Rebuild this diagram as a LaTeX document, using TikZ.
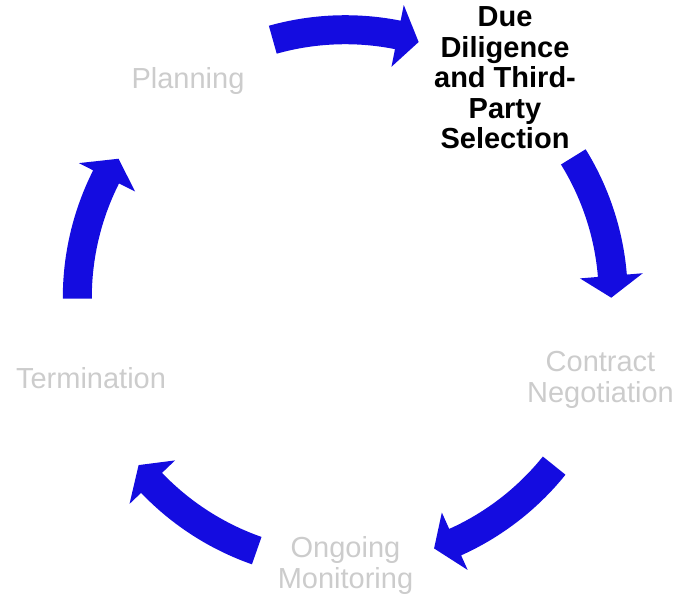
\documentclass[tikz,border=0pt]{standalone}
\usepackage{fontspec}
\setmainfont{Liberation Sans}
\usepackage{tikz}
\usetikzlibrary{positioning}
\usepackage{xcolor}
\definecolor{cycleblue}{RGB}{20,12,224}
\definecolor{stepgray}{RGB}{204,204,204}

\begin{document}
\begin{tikzpicture}[
    x=0.75pt, y=0.75pt,
    stage/.style={align=center, inner sep=0pt, text=#1, font=\fontsize{21.75}{22.9}\selectfont},
    stage/.default=stepgray,
    current/.style={stage=black, font=\fontsize{21.75}{22.9}\selectfont\bfseries},
    cyclearrow/.pic={
        \fill[cycleblue] (16.2:282.5) arc[start angle=16.2, end angle=-10.8, radius=282.5]
            -- (-10.8:298.5) -- (-15.5:266) -- (-10.8:235.5) -- (-10.8:253.5)
            arc[start angle=-10.8, end angle=16.2, radius=253.5] -- cycle;
    },
]
    \useasboundingbox (0,0) rectangle (677,594);
    \coordinate (c) at (345.3,296.3);

    % Stages
    \node[stage] (plan) at (188,513.3) {Planning};
    \node[current] (dd) at (505,516) {Due\\Diligence\\and Third-\\Party\\Selection};
    \node[stage] (contract) at (600.5,214) {Contract\\Negotiation};
    \node[stage] (monitor) at (345.5,28.4) {Ongoing\\Monitoring};
    \node[stage] (term) at (91,216) {Termination};

    % Cycle arrows
    \pic[rotate=89.5] at (c) {cyclearrow};
    \pic[rotate=15.5] at (c) {cyclearrow};
    \pic[rotate=-55] at (c) {cyclearrow};
    \pic[rotate=-125.5] at (c) {cyclearrow};
    \pic[rotate=164] at (c) {cyclearrow};

\end{tikzpicture}
\end{document}
